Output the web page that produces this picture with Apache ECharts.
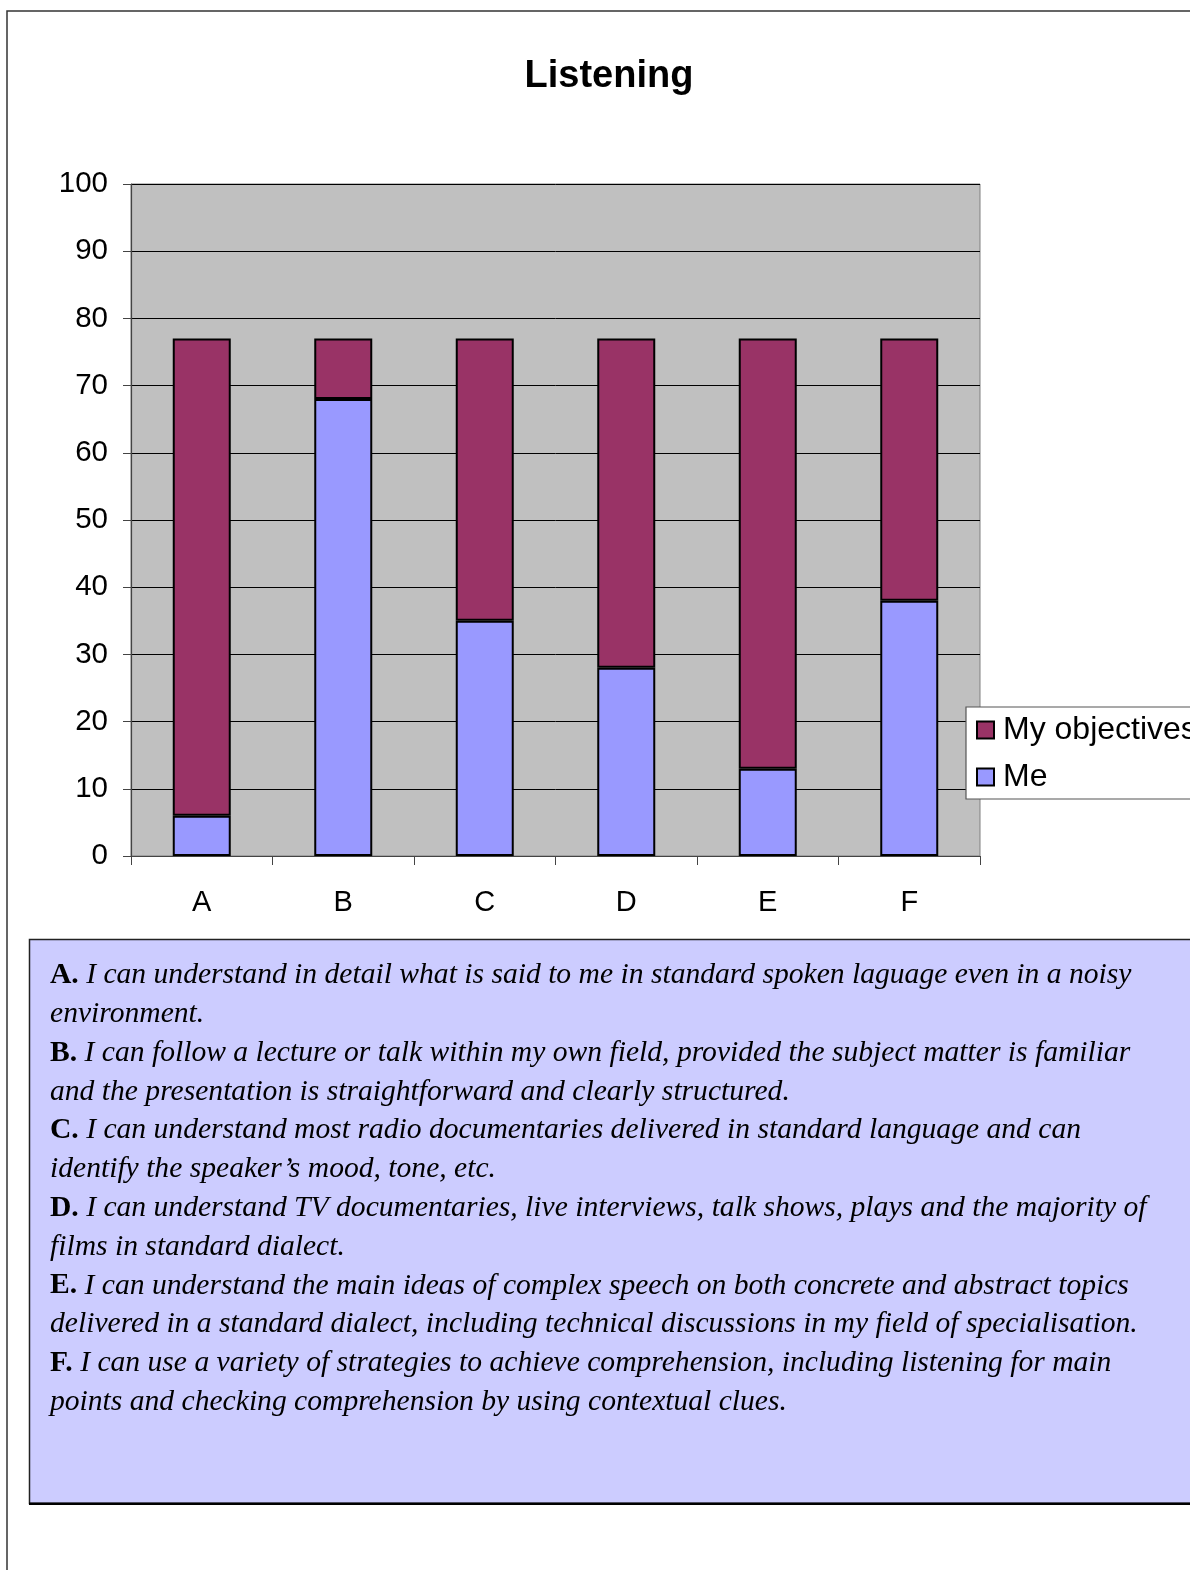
<!DOCTYPE html>
<html>
<head>
<meta charset="utf-8">
<title>Listening</title>
<script src="https://cdn.jsdelivr.net/npm/echarts@6/dist/echarts.min.js"></script>
<style>
  html, body { margin: 0; padding: 0; background: #fff; }
  #chart { width: 1190px; height: 1570px; }
</style>
</head>
<body>
<div id="chart"></div>
<script>
// Skills A–F and the self-assessment scores
const categories = ['A', 'B', 'C', 'D', 'E', 'F'];
const meValues = [6, 68, 35, 28, 13, 38];
// Remaining gap up to the objective, stacked on top of "Me"
const objectiveValues = [71, 9, 42, 49, 64, 39];
const yTicks = [0, 10, 20, 30, 40, 50, 60, 70, 80, 90, 100];

const descriptors = [
  ['A.', 'I can understand in detail what is said to me in standard spoken laguage even in a noisy', 'environment.'],
  ['B.', 'I can follow a lecture or talk within my own field, provided the subject matter is familiar', 'and the presentation is straightforward and clearly structured.'],
  ['C.', 'I can understand most radio documentaries delivered in standard language and can', 'identify the speaker\u2019s mood, tone, etc.'],
  ['D.', 'I can understand TV documentaries, live interviews, talk shows, plays and the majority of', 'films in standard dialect.'],
  ['E.', 'I can understand the main ideas of complex speech on both concrete and abstract topics', 'delivered in a standard dialect, including technical discussions in my field of specialisation.'],
  ['F.', 'I can use a variety of strategies to achieve comprehension, including listening for main', 'points and checking comprehension by using contextual clues.']
];

const descText = descriptors
  .map(d => '{b|' + d[0] + '} {i|' + d[1] + '}\n{i|' + d[2] + '}')
  .join('\n');

const chart = echarts.init(document.getElementById('chart'));
const sans = '"Liberation Sans", Arial, sans-serif';
const serif = '"Liberation Serif", "Times New Roman", serif';
const descSize = 29.6;
const descLine = 38.8;

chart.setOption({
  animation: false,
  backgroundColor: '#fff',
  title: {
    text: 'Listening',
    left: 604,
    textAlign: 'center',
    top: 53,
    textStyle: { fontFamily: sans, fontSize: 38, fontWeight: 'bold', color: '#000' }
  },
  grid: {
    left: 131, top: 184, width: 849, height: 672,
    show: true, backgroundColor: '#c0c0c0', borderColor: '#808080', borderWidth: 1
  },
  legend: {
    orient: 'vertical',
    left: 966, top: 707,
    data: ['My objectives', 'Me'],
    icon: 'rect',
    itemWidth: 17, itemHeight: 17,
    itemGap: 15,
    padding: [7, 60, 6, 10],
    backgroundColor: '#fff',
    borderColor: '#555',
    borderWidth: 1.2,
    borderRadius: 0,
    textStyle: { fontFamily: sans, fontSize: 32, color: '#000', padding: [0, 0, 0, 4] },
    itemStyle: { borderColor: '#000', borderWidth: 2 }
  },
  xAxis: {
    type: 'category',
    data: categories,
    boundaryGap: true,
    axisLine: { lineStyle: { color: '#444', width: 1.2 } },
    axisTick: { show: true, alignWithLabel: false, length: 9, lineStyle: { color: '#444' } },
    axisLabel: { fontFamily: sans, fontSize: 29, color: '#000', margin: 32 },
    splitLine: { show: false }
  },
  yAxis: {
    type: 'value',
    min: yTicks[0],
    max: yTicks[yTicks.length - 1],
    interval: 10,
    axisLine: { show: true, lineStyle: { color: '#444', width: 1.2 } },
    axisTick: { show: true, length: 8, lineStyle: { color: '#444' } },
    axisLabel: { fontFamily: sans, fontSize: 29.5, color: '#000', margin: 23 },
    splitLine: { show: true, lineStyle: { color: '#000', width: 1 } }
  },
  series: [
    {
      name: 'Me',
      type: 'bar',
      stack: 'total',
      data: meValues,
      barWidth: 58,
      itemStyle: { color: '#9999ff', borderColor: '#000', borderWidth: 2 }
    },
    {
      name: 'My objectives',
      type: 'bar',
      stack: 'total',
      data: objectiveValues,
      barWidth: 58,
      itemStyle: { color: '#993366', borderColor: '#000', borderWidth: 2 }
    }
  ],
  graphic: [
    {
      type: 'rect',
      z: -10,
      shape: { x: 7, y: 11, width: 1220, height: 1600 },
      style: { fill: 'none', stroke: '#333', lineWidth: 1.5 }
    },
    {
      type: 'rect',
      z: 0,
      shape: { x: 29.5, y: 939.5, width: 1200, height: 564 },
      style: { fill: '#ccccff', stroke: '#222', lineWidth: 1.5 }
    },
    {
      type: 'rect',
      z: 1,
      shape: { x: 29, y: 1502.5, width: 1161, height: 2.5 },
      style: { fill: '#000' }
    },
    {
      type: 'text',
      z: 2,
      left: 50,
      top: 956,
      style: {
        text: descText,
        fill: '#000',
        fontFamily: serif,
        fontSize: descSize,
        lineHeight: descLine,
        rich: {
          b: { fontFamily: serif, fontSize: descSize, fontWeight: 'bold', lineHeight: descLine, fill: '#000' },
          i: { fontFamily: serif, fontSize: descSize, fontStyle: 'italic', lineHeight: descLine, fill: '#000' }
        }
      }
    }
  ]
});
</script>
</body>
</html>
